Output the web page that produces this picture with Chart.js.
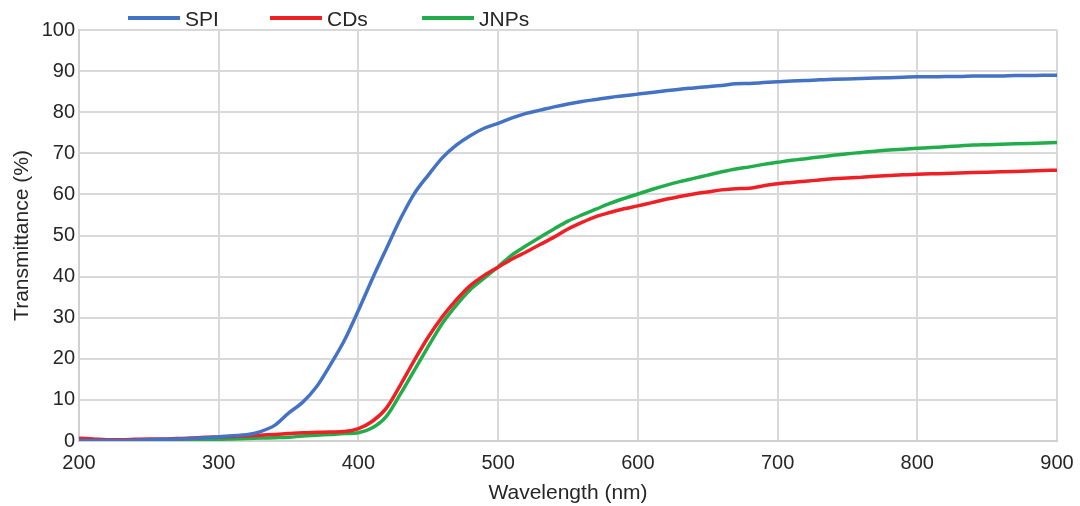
<!DOCTYPE html>
<html>
<head>
<meta charset="utf-8">
<script src="https://cdn.jsdelivr.net/npm/chart.js@4/dist/chart.umd.min.js"></script>
<style>
html,body{margin:0;padding:0;background:#fff;}
#wrap{position:relative;width:1080px;height:506px;}
.lg{position:absolute;font-family:"Liberation Sans",Arial,sans-serif;font-size:21px;color:#262626;line-height:1;}
.sw{position:absolute;height:4px;width:52px;top:16px;}
</style>
</head>
<body>
<div id="wrap">
<canvas id="c" width="1080" height="506"></canvas>
</div>
<script>
const wavelengths = [];
for (let w = 200; w <= 900; w += 10) wavelengths.push(w);

const seriesNames = ["SPI", "CDs", "JNPs"];
const seriesColors = ["#4472c4", "#ee1f25", "#22ad4b"];

const spi = [0.1,0.1,0.2,0.1,0.2,0.3,0.4,0.5,0.6,0.8,
  1.0,1.3,1.5,2.3,3.8,6.8,9.4,13.2,18.6,24.5,
  31.8,39.5,46.8,54.0,60.2,64.7,68.9,72.0,74.3,76.1,
  77.3,78.6,79.7,80.5,81.3,82.0,82.6,83.1,83.6,84.0,
  84.4,84.8,85.2,85.6,85.9,86.2,86.5,86.9,87.0,87.2,
  87.4,87.6,87.7,87.9,88.0,88.1,88.2,88.3,88.4,88.5,
  88.6,88.6,88.7,88.7,88.8,88.8,88.8,88.9,88.9,89.0,89.0];

const cds = [0.7,0.5,0.3,0.3,0.4,0.5,0.5,0.6,0.7,0.9,
  1.0,1.1,1.2,1.4,1.6,1.8,2.0,2.1,2.2,2.3,
  3.0,4.8,8.0,13.6,19.6,25.3,30.2,34.3,37.8,40.3,
  42.3,44.3,46.0,47.8,49.6,51.6,53.2,54.6,55.6,56.5,
  57.2,58.0,58.8,59.5,60.1,60.6,61.1,61.4,61.5,62.1,
  62.6,62.9,63.2,63.5,63.8,64.0,64.2,64.4,64.6,64.8,
  64.9,65.0,65.1,65.2,65.3,65.4,65.5,65.6,65.7,65.8,65.9];

const jnps = [0.1,0.1,0.1,0.1,0.1,0.1,0.1,0.1,0.2,0.25,
  0.4,0.5,0.6,0.7,0.8,0.9,1.2,1.4,1.6,1.8,
  2.0,3.2,6.0,11.4,17.2,23.0,28.6,33.0,36.8,39.6,
  42.4,45.3,47.5,49.6,51.6,53.5,55.0,56.4,57.8,59.0,
  60.1,61.2,62.2,63.1,63.9,64.7,65.5,66.2,66.7,67.3,
  67.8,68.3,68.7,69.1,69.5,69.9,70.2,70.5,70.8,71.0,
  71.2,71.4,71.6,71.8,72.0,72.1,72.2,72.3,72.4,72.5,72.6];

const xTitle = "Wavelength (nm)";
const yTitle = "Transmittance (%)";

const seriesValues = [spi, cds, jnps];
const datasets = seriesNames.map((name, i) => ({
  label: name,
  data: wavelengths.map((w, k) => ({x: w, y: seriesValues[i][k]})),
  borderColor: seriesColors[i],
  backgroundColor: seriesColors[i],
  borderWidth: 3.5,
  pointRadius: 0,
  cubicInterpolationMode: 'monotone',
  fill: false
}));

// HTML legend (real text)
const wrap = document.getElementById('wrap');
const swatchLeft = [128, 270, 422];
seriesNames.forEach((n, i) => {
  const sw = document.createElement('div');
  sw.className = 'sw';
  sw.style.left = swatchLeft[i] + 'px';
  sw.style.background = seriesColors[i];
  wrap.appendChild(sw);
  const t = document.createElement('div');
  t.className = 'lg';
  t.style.left = (swatchLeft[i] + 57) + 'px';
  t.style.top = '8px';
  t.textContent = n;
  wrap.appendChild(t);
});

const font = {family: '"Liberation Sans", Arial, sans-serif'};
new Chart(document.getElementById('c'), {
  type: 'line',
  data: {datasets},
  options: {
    responsive: false,
    animation: false,
    layout: {padding: {top: 30, right: 23, left: 0, bottom: 0}},
    plugins: {legend: {display: false}, tooltip: {enabled: false}},
    scales: {
      x: {
        type: 'linear', min: 200, max: 900,
        ticks: {stepSize: 100, color: '#262626', font: {...font, size: 20}, padding: 10, maxRotation: 0},
        grid: {color: '#d9d9d9', lineWidth: 2, drawTicks: false},
        border: {color: '#d0d0d0', width: 2},
        title: {display: true, text: xTitle, color: '#262626', font: {...font, size: 21}, padding: {top: 0, bottom: 0}},
        afterFit: (s) => { s.height = 65; s.paddingLeft = 0; s.paddingRight = 0; }
      },
      y: {
        min: 0, max: 100,
        ticks: {stepSize: 10, color: '#262626', font: {...font, size: 20}, padding: 4},
        grid: {color: '#d9d9d9', lineWidth: 2, drawTicks: false},
        border: {color: '#d0d0d0', width: 2},
        title: {display: true, text: yTitle, color: '#262626', font: {...font, size: 21}, padding: {top: 10, bottom: 0}},
        afterFit: (s) => { s.width = 79; s.paddingTop = 0; s.paddingBottom = 0; }
      }
    }
  }
});
</script>
</body>
</html>
